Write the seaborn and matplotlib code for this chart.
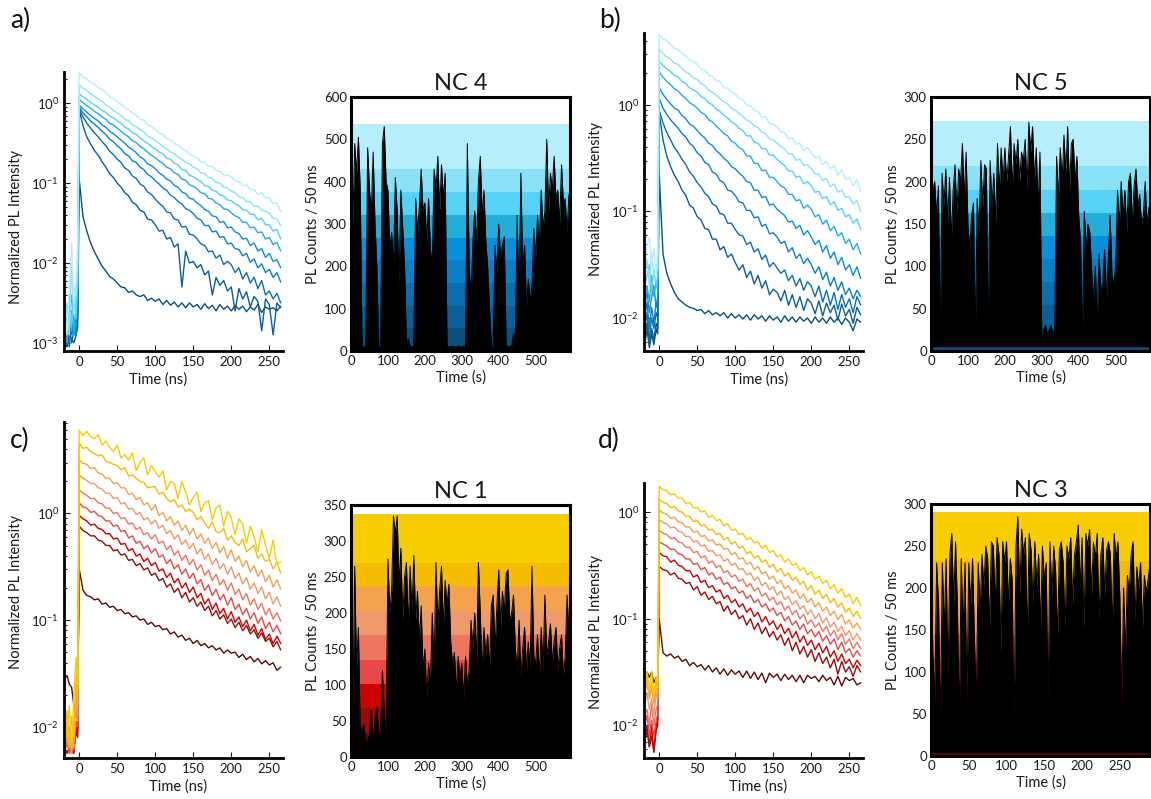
import numpy as np
import pandas as pd
import matplotlib
matplotlib.use("Agg")
import matplotlib.pyplot as plt
import seaborn as sns
from matplotlib.ticker import LogLocator, NullFormatter, MultipleLocator

sns.set_theme(style="ticks")
plt.rcParams["font.family"] = ["Lato", "DejaVu Sans"]
plt.rcParams["mathtext.fontset"] = "custom"
plt.rcParams["mathtext.rm"] = "Lato"
plt.rcParams["mathtext.it"] = "Lato:italic"
plt.rcParams["text.color"] = "#1a1a1a"
plt.rcParams["axes.labelcolor"] = "#1a1a1a"
plt.rcParams["xtick.color"] = "#1a1a1a"
plt.rcParams["ytick.color"] = "#1a1a1a"

# ---------------- colours (brightest bin first) ----------------
blue_bins = ["#b5effc", "#8ae2f9", "#55d2f5", "#22aed9", "#0a8fdc",
             "#0a7fc6", "#0a6eae", "#0a5f98", "#0b4f7f"]
warm_bins = ["#f7cd00", "#f6bd00", "#f4a24c", "#ef9a6c", "#ee7560",
             "#e84848", "#cc0000", "#9a0a0a", "#5c0a0a"]

# ---------------- decay time axis (ns) ----------------
decay_t_pre_ns = [-19, -16, -13, -10, -7, -4, -2]
decay_t_ns = np.arange(0, 270, 5)

# ---------------- panel a: log10 normalized PL intensity, brightest bin first ----
a_pre = [
    [-2.60, -2.90, -2.30, -1.75, -2.50, -2.20, -1.80],
    [-2.80, -2.50, -2.90, -2.00, -2.60, -2.40, -2.00],
    [-3.00, -2.70, -2.40, -2.80, -2.30, -2.70, -2.20],
    [-2.90, -3.00, -2.60, -2.40, -2.90, -2.50, -2.30],
    [-3.05, -2.80, -2.90, -2.60, -2.70, -2.90, -2.40],
    [-2.95, -3.00, -2.70, -2.90, -2.80, -2.70, -2.50],
    [-3.00, -2.90, -3.05, -2.70, -2.90, -2.80, -2.60],
    [-3.05, -2.95, -2.80, -3.00, -2.85, -2.90, -2.70],
    [-3.00, -3.05, -2.90, -2.95, -3.00, -2.90, -2.80],
]
a_decay = [
    [0.38, 0.33, 0.31, 0.26, 0.24, 0.20, 0.17, 0.14, 0.08, 0.06,
     0.02, -0.01, -0.06, -0.08, -0.12, -0.15, -0.20, -0.21, -0.27, -0.29,
     -0.33, -0.37, -0.39, -0.44, -0.46, -0.50, -0.52, -0.57, -0.59, -0.64,
     -0.66, -0.68, -0.73, -0.74, -0.79, -0.79, -0.84, -0.85, -0.90, -0.90,
     -0.92, -0.97, -0.98, -1.03, -1.02, -1.08, -1.08, -1.14, -1.12, -1.19,
     -1.18, -1.26, -1.24, -1.36],
    [0.23, 0.19, 0.16, 0.12, 0.09, 0.05, 0.03, -0.02, -0.05, -0.09,
     -0.12, -0.15, -0.20, -0.22, -0.27, -0.29, -0.33, -0.36, -0.41, -0.43,
     -0.47, -0.50, -0.54, -0.57, -0.61, -0.63, -0.67, -0.70, -0.74, -0.76,
     -0.80, -0.82, -0.87, -0.88, -0.93, -0.94, -0.99, -1.00, -1.05, -1.06,
     -1.10, -1.12, -1.17, -1.18, -1.23, -1.23, -1.29, -1.29, -1.34, -1.35,
     -1.38, -1.44, -1.45, -1.53],
    [0.12, 0.08, 0.05, 0.01, -0.02, -0.05, -0.09, -0.11, -0.16, -0.18,
     -0.22, -0.25, -0.30, -0.32, -0.37, -0.39, -0.43, -0.47, -0.50, -0.54,
     -0.57, -0.61, -0.63, -0.69, -0.70, -0.75, -0.77, -0.83, -0.84, -0.90,
     -0.92, -0.95, -0.98, -1.03, -1.04, -1.09, -1.10, -1.15, -1.16, -1.21,
     -1.22, -1.26, -1.28, -1.33, -1.34, -1.39, -1.39, -1.46, -1.44, -1.52,
     -1.52, -1.60, -1.58, -1.70],
    [0.05, 0.01, -0.03, -0.06, -0.10, -0.13, -0.17, -0.20, -0.25, -0.27,
     -0.31, -0.35, -0.39, -0.42, -0.47, -0.49, -0.54, -0.57, -0.61, -0.65,
     -0.68, -0.72, -0.75, -0.80, -0.82, -0.87, -0.89, -0.95, -0.96, -1.02,
     -1.04, -1.07, -1.12, -1.13, -1.19, -1.20, -1.25, -1.27, -1.32, -1.33,
     -1.37, -1.41, -1.43, -1.49, -1.49, -1.56, -1.55, -1.62, -1.61, -1.70,
     -1.68, -1.77, -1.74, -1.85],
    [-0.02, -0.07, -0.11, -0.15, -0.19, -0.22, -0.27, -0.30, -0.35, -0.38,
     -0.42, -0.46, -0.50, -0.55, -0.58, -0.62, -0.67, -0.70, -0.76, -0.78,
     -0.82, -0.87, -0.90, -0.95, -0.97, -1.03, -1.05, -1.11, -1.13, -1.19,
     -1.20, -1.25, -1.28, -1.33, -1.35, -1.41, -1.42, -1.49, -1.48, -1.56,
     -1.55, -1.61, -1.63, -1.70, -1.69, -1.78, -1.75, -1.85, -1.82, -1.93,
     -1.88, -1.98, -1.96, -2.06],
    [-0.05, -0.12, -0.17, -0.22, -0.26, -0.30, -0.35, -0.39, -0.45, -0.48,
     -0.53, -0.57, -0.63, -0.66, -0.72, -0.74, -0.80, -0.83, -0.89, -0.92,
     -0.97, -1.01, -1.06, -1.09, -1.15, -1.18, -1.23, -1.26, -1.32, -1.34,
     -1.38, -1.44, -1.46, -1.53, -1.53, -1.61, -1.60, -1.68, -1.67, -1.76,
     -1.75, -1.82, -1.83, -1.91, -1.88, -1.99, -1.95, -2.06, -2.01, -2.12,
     -2.08, -2.18, -2.12, -2.24],
    [-0.07, -0.17, -0.25, -0.31, -0.37, -0.42, -0.48, -0.53, -0.60, -0.64,
     -0.70, -0.74, -0.81, -0.84, -0.91, -0.94, -1.01, -1.04, -1.11, -1.14,
     -1.20, -1.25, -1.29, -1.36, -1.37, -1.45, -1.46, -1.55, -1.54, -1.64,
     -1.65, -1.70, -1.76, -1.78, -1.86, -1.85, -1.94, -1.90, -2.02, -1.98,
     -2.02, -2.12, -2.06, -2.20, -2.12, -2.25, -2.18, -2.32, -2.22, -2.40,
     -2.35, -2.45, -2.38, -2.50],
    [-0.08, -0.28, -0.42, -0.51, -0.59, -0.65, -0.73, -0.80, -0.88, -0.93,
     -1.00, -1.05, -1.12, -1.16, -1.24, -1.27, -1.34, -1.36, -1.45, -1.46,
     -1.52, -1.60, -1.59, -1.70, -1.68, -1.80, -1.76, -2.30, -1.85, -2.00,
     -1.98, -2.06, -2.02, -2.15, -2.10, -2.40, -2.18, -2.28, -2.22, -2.35,
     -2.30, -2.60, -2.32, -2.45, -2.36, -2.55, -2.42, -2.48, -2.85, -2.45,
     -2.52, -2.90, -2.50, -2.56],
    [-0.95, -1.42, -1.60, -1.75, -1.86, -1.95, -2.04, -2.10, -2.17, -2.20,
     -2.25, -2.30, -2.31, -2.37, -2.35, -2.40, -2.42, -2.40, -2.47, -2.44,
     -2.48, -2.45, -2.52, -2.47, -2.53, -2.49, -2.55, -2.50, -2.56, -2.50,
     -2.55, -2.52, -2.58, -2.51, -2.57, -2.53, -2.60, -2.52, -2.58, -2.54,
     -2.60, -2.53, -2.58, -2.54, -2.61, -2.55, -2.59, -2.52, -2.62, -2.55,
     -2.58, -2.56, -2.60, -2.54],
]

# ---------------- panel b ----------------
b_pre = [
    [-1.50, -1.30, -1.25, -1.50, -1.35, -1.60, -1.40],
    [-1.60, -1.45, -1.70, -1.40, -1.60, -1.50, -1.55],
    [-1.70, -1.60, -1.50, -1.75, -1.55, -1.70, -1.60],
    [-1.80, -1.70, -1.85, -1.60, -1.80, -1.65, -1.75],
    [-1.90, -1.75, -1.95, -1.80, -1.70, -1.90, -1.80],
    [-2.00, -1.85, -2.10, -1.90, -2.05, -1.85, -1.90],
    [-2.10, -1.95, -2.20, -2.00, -2.10, -1.95, -2.00],
    [-2.20, -2.05, -2.25, -2.10, -2.20, -2.05, -2.10],
    [-2.25, -2.10, -2.28, -2.15, -2.25, -2.10, -2.15],
]
b_decay = [
    [0.66, 0.62, 0.60, 0.57, 0.53, 0.52, 0.48, 0.46, 0.42, 0.41,
     0.38, 0.34, 0.33, 0.28, 0.27, 0.23, 0.22, 0.16, 0.16, 0.12,
     0.10, 0.06, 0.05, 0.00, -0.01, -0.05, -0.06, -0.12, -0.11, -0.18,
     -0.18, -0.21, -0.25, -0.26, -0.32, -0.31, -0.37, -0.36, -0.43, -0.40,
     -0.45, -0.50, -0.48, -0.56, -0.53, -0.60, -0.57, -0.66, -0.61, -0.70,
     -0.68, -0.76, -0.70, -0.82],
    [0.52, 0.48, 0.45, 0.43, 0.39, 0.38, 0.34, 0.31, 0.29, 0.25,
     0.24, 0.20, 0.18, 0.14, 0.12, 0.09, 0.06, 0.03, 0.01, -0.03,
     -0.05, -0.08, -0.11, -0.14, -0.16, -0.20, -0.21, -0.26, -0.27, -0.32,
     -0.33, -0.36, -0.39, -0.41, -0.46, -0.46, -0.52, -0.51, -0.57, -0.56,
     -0.60, -0.65, -0.65, -0.71, -0.69, -0.77, -0.74, -0.82, -0.80, -0.87,
     -0.86, -0.93, -0.90, -1.00],
    [0.41, 0.37, 0.34, 0.31, 0.28, 0.26, 0.22, 0.20, 0.16, 0.14,
     0.12, 0.08, 0.06, 0.02, 0.00, -0.04, -0.06, -0.10, -0.12, -0.16,
     -0.18, -0.22, -0.24, -0.29, -0.29, -0.35, -0.36, -0.41, -0.41, -0.47,
     -0.47, -0.51, -0.54, -0.57, -0.62, -0.62, -0.68, -0.67, -0.74, -0.72,
     -0.76, -0.82, -0.81, -0.88, -0.86, -0.94, -0.91, -0.99, -0.97, -1.05,
     -1.03, -1.11, -1.07, -1.17],
    [0.31, 0.26, 0.22, 0.19, 0.15, 0.13, 0.09, 0.06, 0.02, 0.00,
     -0.03, -0.07, -0.09, -0.14, -0.16, -0.20, -0.23, -0.27, -0.29, -0.34,
     -0.36, -0.40, -0.42, -0.48, -0.48, -0.55, -0.55, -0.62, -0.61, -0.68,
     -0.68, -0.72, -0.76, -0.78, -0.84, -0.84, -0.90, -0.89, -0.97, -0.94,
     -0.98, -1.05, -1.03, -1.12, -1.08, -1.18, -1.14, -1.23, -1.20, -1.30,
     -1.26, -1.36, -1.30, -1.40],
    [0.16, 0.10, 0.05, 0.01, -0.03, -0.05, -0.10, -0.13, -0.18, -0.20,
     -0.24, -0.28, -0.31, -0.36, -0.38, -0.43, -0.46, -0.50, -0.53, -0.58,
     -0.60, -0.64, -0.67, -0.72, -0.73, -0.80, -0.80, -0.87, -0.86, -0.94,
     -0.93, -0.98, -1.01, -1.04, -1.10, -1.09, -1.16, -1.13, -1.22, -1.18,
     -1.24, -1.31, -1.27, -1.38, -1.32, -1.44, -1.38, -1.50, -1.43, -1.55,
     -1.50, -1.60, -1.52, -1.63],
    [0.06, -0.03, -0.09, -0.14, -0.18, -0.22, -0.27, -0.30, -0.36, -0.39,
     -0.45, -0.48, -0.54, -0.56, -0.63, -0.65, -0.71, -0.73, -0.80, -0.81,
     -0.85, -0.91, -0.92, -0.99, -0.99, -1.06, -1.05, -1.14, -1.12, -1.21,
     -1.20, -1.24, -1.30, -1.28, -1.38, -1.34, -1.44, -1.40, -1.49, -1.44,
     -1.50, -1.58, -1.52, -1.64, -1.57, -1.70, -1.62, -1.74, -1.66, -1.78,
     -1.72, -1.82, -1.74, -1.80],
    [-0.05, -0.17, -0.26, -0.33, -0.40, -0.45, -0.51, -0.56, -0.63, -0.67,
     -0.73, -0.77, -0.83, -0.86, -0.93, -0.95, -1.02, -1.03, -1.11, -1.11,
     -1.17, -1.22, -1.23, -1.31, -1.29, -1.38, -1.35, -1.45, -1.41, -1.52,
     -1.48, -1.53, -1.58, -1.55, -1.65, -1.60, -1.70, -1.63, -1.74, -1.66,
     -1.70, -1.80, -1.70, -1.85, -1.74, -1.88, -1.76, -1.92, -1.78, -1.90,
     -1.82, -1.95, -1.80, -1.88],
    [-0.08, -0.33, -0.48, -0.58, -0.66, -0.72, -0.80, -0.85, -0.94, -0.97,
     -1.05, -1.08, -1.16, -1.17, -1.26, -1.26, -1.36, -1.33, -1.43, -1.40,
     -1.48, -1.55, -1.50, -1.62, -1.56, -1.68, -1.60, -1.72, -1.65, -1.78,
     -1.73, -1.76, -1.84, -1.74, -1.88, -1.78, -1.90, -1.80, -1.93, -1.82,
     -1.86, -1.96, -1.84, -1.98, -1.86, -1.95, -1.88, -2.02, -1.87, -1.98,
     -1.92, -2.05, -1.90, -1.97],
    [-0.64, -1.40, -1.58, -1.68, -1.76, -1.82, -1.85, -1.88, -1.90, -1.91,
     -1.93, -1.92, -1.96, -1.93, -1.97, -1.95, -1.98, -1.95, -2.00, -1.96,
     -2.00, -1.97, -2.01, -1.97, -2.02, -1.97, -2.01, -1.98, -2.03, -1.98,
     -2.02, -1.99, -2.04, -1.98, -2.03, -1.99, -2.04, -1.99, -2.03, -2.00,
     -2.05, -1.99, -2.04, -2.00, -2.05, -1.99, -2.04, -2.00, -2.06, -2.00,
     -2.04, -2.12, -2.01, -2.04],
]

# ---------------- panel c ----------------
c_pre = [
    [-1.90, -2.10, -1.80, -2.20, -1.70, -1.35, -1.60],
    [-2.00, -1.85, -2.20, -1.90, -2.10, -1.50, -1.70],
    [-1.95, -2.15, -2.00, -2.25, -1.95, -1.60, -1.80],
    [-2.10, -1.95, -2.20, -2.05, -2.20, -1.75, -1.90],
    [-2.05, -2.20, -2.10, -2.25, -2.10, -1.85, -1.95],
    [-2.15, -2.10, -2.25, -2.15, -2.22, -1.95, -2.00],
    [-2.20, -2.15, -2.22, -2.20, -2.25, -2.00, -2.05],
    [-2.20, -2.25, -2.20, -2.25, -2.20, -2.05, -2.10],
    [-1.55, -1.52, -1.60, -1.63, -1.80, -1.90, -1.70],
]
c_decay = [
    [0.78, 0.73, 0.77, 0.72, 0.70, 0.74, 0.64, 0.68, 0.62, 0.58,
     0.64, 0.52, 0.55, 0.50, 0.57, 0.40, 0.48, 0.52, 0.36, 0.45,
     0.39, 0.34, 0.40, 0.22, 0.30, 0.28, 0.14, 0.30, 0.20, 0.08,
     0.15, 0.20, 0.02, 0.10, 0.12, -0.06, 0.05, 0.08, -0.12, 0.02,
     -0.04, -0.20, -0.05, -0.10, -0.28, -0.12, -0.22, -0.36, -0.15, -0.30,
     -0.42, -0.25, -0.48, -0.45],
    [0.66, 0.61, 0.62, 0.58, 0.56, 0.54, 0.55, 0.49, 0.48, 0.46,
     0.45, 0.41, 0.43, 0.35, 0.36, 0.33, 0.30, 0.29, 0.24, 0.25,
     0.25, 0.18, 0.20, 0.14, 0.11, 0.13, 0.06, 0.08, 0.02, 0.04,
     0.01, -0.06, -0.03, -0.09, -0.14, -0.08, -0.17, -0.18, -0.14, -0.25,
     -0.21, -0.27, -0.30, -0.24, -0.36, -0.33, -0.30, -0.42, -0.38, -0.45,
     -0.43, -0.52, -0.46, -0.56],
    [0.50, 0.47, 0.46, 0.42, 0.43, 0.38, 0.37, 0.33, 0.33, 0.28,
     0.29, 0.24, 0.24, 0.18, 0.19, 0.13, 0.15, 0.08, 0.10, 0.03,
     0.08, -0.02, 0.01, -0.07, -0.03, -0.11, -0.07, -0.16, -0.11, -0.20,
     -0.14, -0.24, -0.19, -0.28, -0.23, -0.33, -0.27, -0.37, -0.31, -0.42,
     -0.34, -0.45, -0.40, -0.50, -0.44, -0.55, -0.49, -0.59, -0.53, -0.64,
     -0.58, -0.69, -0.62, -0.71],
    [0.36, 0.33, 0.31, 0.28, 0.28, 0.24, 0.23, 0.19, 0.19, 0.14,
     0.15, 0.09, 0.10, 0.04, 0.05, -0.01, 0.01, -0.06, -0.04, -0.10,
     -0.06, -0.14, -0.11, -0.19, -0.16, -0.24, -0.20, -0.29, -0.25, -0.33,
     -0.28, -0.38, -0.33, -0.43, -0.38, -0.48, -0.42, -0.52, -0.47, -0.57,
     -0.50, -0.61, -0.56, -0.66, -0.60, -0.71, -0.65, -0.75, -0.69, -0.80,
     -0.74, -0.85, -0.78, -0.87],
    [0.22, 0.19, 0.17, 0.14, 0.14, 0.10, 0.09, 0.05, 0.05, 0.00,
     0.01, -0.05, -0.04, -0.10, -0.09, -0.15, -0.13, -0.20, -0.18, -0.24,
     -0.20, -0.28, -0.26, -0.34, -0.30, -0.39, -0.35, -0.44, -0.39, -0.48,
     -0.43, -0.53, -0.48, -0.58, -0.53, -0.63, -0.57, -0.67, -0.62, -0.72,
     -0.65, -0.76, -0.71, -0.81, -0.75, -0.86, -0.80, -0.90, -0.84, -0.95,
     -0.89, -0.99, -0.93, -1.01],
    [0.10, 0.06, 0.05, 0.01, 0.02, -0.02, -0.03, -0.07, -0.07, -0.12,
     -0.11, -0.17, -0.16, -0.23, -0.21, -0.28, -0.26, -0.33, -0.30, -0.37,
     -0.33, -0.41, -0.39, -0.47, -0.43, -0.52, -0.48, -0.57, -0.52, -0.61,
     -0.56, -0.66, -0.62, -0.72, -0.67, -0.77, -0.71, -0.81, -0.76, -0.86,
     -0.79, -0.90, -0.85, -0.95, -0.89, -0.99, -0.93, -1.03, -0.97, -1.08,
     -1.02, -1.11, -1.05, -1.13],
    [-0.02, -0.05, -0.07, -0.11, -0.10, -0.14, -0.15, -0.19, -0.19, -0.24,
     -0.23, -0.29, -0.28, -0.35, -0.33, -0.40, -0.38, -0.45, -0.42, -0.49,
     -0.46, -0.54, -0.52, -0.60, -0.56, -0.65, -0.61, -0.70, -0.65, -0.74,
     -0.69, -0.79, -0.75, -0.85, -0.80, -0.90, -0.84, -0.94, -0.89, -0.99,
     -0.92, -1.02, -0.97, -1.06, -1.00, -1.10, -1.04, -1.14, -1.08, -1.18,
     -1.13, -1.22, -1.15, -1.22],
    [-0.12, -0.16, -0.18, -0.21, -0.21, -0.25, -0.26, -0.30, -0.30, -0.35,
     -0.34, -0.39, -0.38, -0.44, -0.43, -0.49, -0.47, -0.53, -0.51, -0.58,
     -0.56, -0.63, -0.61, -0.69, -0.66, -0.74, -0.70, -0.79, -0.74, -0.83,
     -0.79, -0.87, -0.83, -0.91, -0.87, -0.96, -0.91, -0.99, -0.95, -1.03,
     -0.99, -1.07, -1.02, -1.10, -1.05, -1.13, -1.09, -1.17, -1.12, -1.20,
     -1.17, -1.25, -1.20, -1.28],
    [-0.52, -0.72, -0.77, -0.78, -0.81, -0.80, -0.85, -0.84, -0.88, -0.87,
     -0.91, -0.90, -0.94, -0.93, -0.97, -0.96, -1.00, -0.99, -1.04, -1.02,
     -1.06, -1.05, -1.09, -1.08, -1.13, -1.11, -1.16, -1.14, -1.19, -1.17,
     -1.22, -1.19, -1.24, -1.22, -1.26, -1.24, -1.28, -1.26, -1.31, -1.28,
     -1.31, -1.30, -1.35, -1.32, -1.37, -1.34, -1.39, -1.36, -1.41, -1.38,
     -1.42, -1.40, -1.47, -1.44],
]

# ---------------- panel d ----------------
d_pre = [
    [-1.60, -1.50, -1.65, -1.50, -1.70, -1.55, -1.60],
    [-1.65, -1.55, -1.70, -1.60, -1.75, -1.60, -1.65],
    [-1.70, -1.60, -1.75, -1.65, -1.80, -1.65, -1.70],
    [-1.80, -1.70, -1.85, -1.75, -1.90, -1.70, -1.75],
    [-1.90, -1.85, -2.00, -1.80, -2.00, -1.85, -1.80],
    [-2.00, -1.90, -2.10, -1.95, -2.10, -1.95, -1.90],
    [-2.10, -2.00, -2.20, -2.00, -2.25, -2.00, -1.95],
    [-2.15, -2.05, -2.20, -2.10, -2.25, -2.05, -2.00],
    [-1.60, -1.50, -1.55, -1.50, -1.60, -1.55, -1.60],
]
d_decay = [
    [0.24, 0.21, 0.20, 0.16, 0.17, 0.13, 0.13, 0.08, 0.09, 0.04,
     0.04, 0.00, 0.01, -0.05, -0.03, -0.08, -0.07, -0.13, -0.11, -0.17,
     -0.16, -0.21, -0.20, -0.26, -0.24, -0.29, -0.28, -0.34, -0.31, -0.38,
     -0.36, -0.42, -0.40, -0.47, -0.44, -0.50, -0.48, -0.55, -0.52, -0.59,
     -0.56, -0.63, -0.60, -0.67, -0.64, -0.72, -0.68, -0.76, -0.72, -0.80,
     -0.77, -0.86, -0.80, -0.88],
    [0.12, 0.09, 0.08, 0.04, 0.05, 0.01, 0.00, -0.04, -0.04, -0.09,
     -0.08, -0.13, -0.12, -0.17, -0.16, -0.21, -0.20, -0.26, -0.24, -0.30,
     -0.28, -0.34, -0.32, -0.39, -0.37, -0.43, -0.41, -0.47, -0.45, -0.52,
     -0.49, -0.56, -0.53, -0.60, -0.57, -0.64, -0.61, -0.68, -0.65, -0.73,
     -0.69, -0.77, -0.73, -0.81, -0.77, -0.85, -0.81, -0.89, -0.85, -0.94,
     -0.90, -0.98, -0.93, -1.00],
    [0.02, -0.01, -0.02, -0.06, -0.05, -0.09, -0.10, -0.14, -0.14, -0.19,
     -0.18, -0.23, -0.22, -0.27, -0.26, -0.31, -0.30, -0.35, -0.34, -0.40,
     -0.38, -0.44, -0.43, -0.49, -0.47, -0.54, -0.51, -0.58, -0.56, -0.63,
     -0.60, -0.67, -0.64, -0.72, -0.69, -0.76, -0.73, -0.81, -0.77, -0.85,
     -0.81, -0.89, -0.85, -0.93, -0.89, -0.97, -0.93, -1.01, -0.96, -1.05,
     -1.01, -1.09, -1.04, -1.10],
    [-0.07, -0.10, -0.11, -0.15, -0.14, -0.18, -0.19, -0.23, -0.23, -0.28,
     -0.27, -0.32, -0.31, -0.37, -0.36, -0.41, -0.40, -0.46, -0.44, -0.50,
     -0.48, -0.54, -0.53, -0.59, -0.57, -0.64, -0.61, -0.69, -0.66, -0.73,
     -0.70, -0.78, -0.74, -0.82, -0.79, -0.87, -0.83, -0.91, -0.88, -0.96,
     -0.92, -1.00, -0.95, -1.04, -0.99, -1.08, -1.03, -1.12, -1.07, -1.16,
     -1.11, -1.20, -1.14, -1.20],
    [-0.17, -0.20, -0.21, -0.25, -0.24, -0.28, -0.29, -0.33, -0.33, -0.38,
     -0.37, -0.43, -0.41, -0.48, -0.46, -0.52, -0.50, -0.57, -0.55, -0.61,
     -0.59, -0.65, -0.63, -0.70, -0.67, -0.74, -0.71, -0.79, -0.76, -0.83,
     -0.80, -0.87, -0.84, -0.92, -0.88, -0.96, -0.92, -1.00, -0.96, -1.05,
     -1.01, -1.08, -1.04, -1.12, -1.07, -1.16, -1.11, -1.20, -1.14, -1.24,
     -1.19, -1.28, -1.22, -1.28],
    [-0.28, -0.30, -0.32, -0.35, -0.35, -0.39, -0.40, -0.44, -0.44, -0.49,
     -0.48, -0.54, -0.52, -0.59, -0.57, -0.63, -0.61, -0.68, -0.66, -0.72,
     -0.70, -0.76, -0.74, -0.81, -0.78, -0.85, -0.82, -0.89, -0.86, -0.93,
     -0.90, -0.97, -0.94, -1.02, -0.98, -1.06, -1.02, -1.10, -1.05, -1.14,
     -1.10, -1.17, -1.12, -1.21, -1.16, -1.24, -1.19, -1.29, -1.22, -1.32,
     -1.28, -1.36, -1.30, -1.35],
    [-0.38, -0.41, -0.42, -0.47, -0.45, -0.50, -0.51, -0.55, -0.55, -0.61,
     -0.59, -0.66, -0.64, -0.71, -0.69, -0.75, -0.73, -0.81, -0.78, -0.85,
     -0.82, -0.89, -0.86, -0.94, -0.90, -0.98, -0.94, -1.03, -0.98, -1.06,
     -1.02, -1.10, -1.05, -1.14, -1.09, -1.18, -1.12, -1.22, -1.16, -1.25,
     -1.20, -1.29, -1.23, -1.32, -1.26, -1.36, -1.30, -1.40, -1.33, -1.42,
     -1.38, -1.46, -1.39, -1.44],
    [-0.51, -0.54, -0.55, -0.59, -0.57, -0.62, -0.63, -0.67, -0.66, -0.73,
     -0.70, -0.78, -0.75, -0.82, -0.79, -0.86, -0.84, -0.93, -0.88, -0.96,
     -0.92, -1.00, -0.97, -1.06, -1.00, -1.10, -1.04, -1.14, -1.08, -1.17,
     -1.12, -1.20, -1.15, -1.25, -1.18, -1.30, -1.22, -1.33, -1.26, -1.36,
     -1.29, -1.40, -1.32, -1.42, -1.36, -1.46, -1.38, -1.52, -1.40, -1.50,
     -1.45, -1.54, -1.44, -1.50],
    [-1.00, -1.32, -1.35, -1.33, -1.37, -1.35, -1.40, -1.38, -1.44, -1.41,
     -1.45, -1.43, -1.48, -1.44, -1.50, -1.46, -1.52, -1.47, -1.53, -1.48,
     -1.52, -1.49, -1.55, -1.49, -1.56, -1.50, -1.57, -1.51, -1.60, -1.51,
     -1.55, -1.52, -1.58, -1.52, -1.57, -1.53, -1.59, -1.53, -1.60, -1.53,
     -1.56, -1.54, -1.59, -1.53, -1.58, -1.55, -1.62, -1.54, -1.63, -1.55,
     -1.58, -1.56, -1.62, -1.60],
]

# ---------------- blinking traces: PL counts / 50 ms ----------------
nc4_t_s = np.arange(0, 591, 5)
nc4_counts = [360, 300, 490, 420, 505, 380, 10, 10, 12, 480,
              380, 330, 470, 300, 200, 10, 10, 490, 530, 400,
              380, 240, 280, 200, 410, 330, 150, 380, 290, 200,
              15, 30, 12, 10, 12, 360, 280, 340, 430, 330,
              350, 260, 360, 240, 200, 430, 380, 460, 330, 440,
              360, 420, 12, 10, 10, 12, 10, 10, 12, 10,
              10, 12, 10, 490, 200, 120, 260, 330, 250, 400,
              460, 320, 380, 260, 200, 100, 12, 10, 250, 180,
              300, 220, 250, 270, 12, 10, 12, 10, 40, 40,
              320, 100, 420, 200, 250, 100, 170, 120, 150, 290,
              220, 320, 250, 380, 290, 330, 500, 330, 420, 380,
              460, 360, 380, 300, 440, 350, 360, 280, 370]
nc4_floor = 0
nc4_bin_edges = [0, 54, 107, 161, 215, 268, 322, 376, 430, 537]

nc5_t_s = np.arange(0, 591, 5)
nc5_counts = [225, 190, 200, 160, 195, 10, 210, 170, 215, 150,
              205, 130, 190, 220, 160, 215, 200, 245, 180, 235,
              150, 120, 160, 175, 10, 180, 140, 225, 170, 220,
              215, 10, 225, 170, 210, 150, 245, 190, 240, 200,
              240, 200, 230, 265, 190, 245, 220, 250, 200, 235,
              225, 250, 190, 270, 235, 265, 200, 240, 170, 235,
              10, 25, 30, 20, 25, 30, 20, 25, 230, 180,
              240, 200, 255, 210, 265, 190, 245, 250, 200, 230,
              160, 130, 10, 165, 120, 150, 140, 95, 60, 100,
              30, 115, 70, 80, 120, 60, 110, 160, 90, 80,
              100, 190, 150, 200, 160, 190, 140, 200, 210, 150,
              195, 215, 170, 185, 150, 160, 200, 150, 170]
nc5_floor = 5
nc5_bin_edges = [0, 27, 54, 82, 109, 136, 163, 190, 218, 272]

nc1_t_s = np.arange(0, 591, 5)
nc1_counts = [105, 60, 265, 120, 180, 35, 40, 45, 20, 25,
              30, 65, 20, 50, 70, 25, 40, 120, 60, 30,
              275, 200, 230, 335, 310, 335, 240, 290, 190, 250,
              270, 180, 265, 200, 280, 190, 230, 160, 210, 120,
              150, 80, 130, 100, 200, 120, 270, 180, 230, 265,
              180, 245, 210, 240, 160, 130, 145, 90, 140, 110,
              130, 80, 140, 100, 120, 190, 150, 200, 130, 270,
              200, 120, 180, 140, 170, 120, 210, 225, 150, 210,
              260, 180, 230, 200, 255, 260, 190, 200, 225, 150,
              120, 190, 110, 150, 180, 120, 160, 120, 265, 140,
              130, 170, 110, 180, 120, 225, 140, 160, 185, 130,
              160, 180, 120, 150, 170, 110, 140, 225, 170]
nc1_floor = 0
nc1_bin_edges = [0, 34, 68, 101, 135, 169, 203, 237, 270, 338]

nc3_t_s = np.arange(0, 290.1, 2.5)
nc3_counts = [230, 120, 65, 230, 180, 30, 230, 150, 235, 90,
              240, 265, 180, 255, 175, 40, 235, 150, 230, 60,
              230, 180, 235, 140, 60, 230, 170, 240, 200, 250,
              235, 150, 255, 250, 180, 260, 240, 120, 255, 230,
              255, 180, 235, 210, 30, 250, 285, 190, 270, 240,
              260, 140, 265, 245, 180, 255, 200, 240, 150, 250,
              210, 230, 60, 255, 190, 250, 220, 140, 245, 255,
              230, 150, 250, 235, 260, 180, 240, 255, 275, 200,
              260, 150, 265, 250, 270, 190, 255, 235, 265, 160,
              240, 260, 190, 245, 255, 240, 150, 265, 235, 255,
              190, 60, 200, 120, 215, 195, 240, 255, 160, 225,
              200, 230, 150, 215, 195, 210, 230]
nc3_floor = 4
nc3_bin_edges = [0, 29, 58, 87, 116, 145, 174, 203, 232, 290]

# ---------------- figure ----------------
W, H = 1151, 799
fig = plt.figure(figsize=(W / 100, H / 100), dpi=100)


def px_axes(left, top, right, bottom):
    return fig.add_axes([left / W, 1 - bottom / H, (right - left) / W, (bottom - top) / H])


TICK_FS = 9.5
LAB_FS = 10.5


def draw_decay(ax, pre, main, colors, ylim, xlab_x, ylab_y):
    rows = []
    t_all = list(decay_t_pre_ns) + list(decay_t_ns)
    for k in range(len(main) - 1, -1, -1):  # darkest bin drawn first
        logs = list(pre[k]) + list(main[k])
        assert len(logs) == len(t_all)
        for t, lv in zip(t_all, logs):
            rows.append(("bin%d" % k, t, 10.0 ** lv))
    df = pd.DataFrame(rows, columns=["bin", "t", "I"])
    pal = {"bin%d" % k: colors[k] for k in range(len(colors))}
    sns.lineplot(data=df, x="t", y="I", hue="bin", palette=pal, estimator=None,
                 legend=False, ax=ax, linewidth=1.0)
    ax.set_yscale("log")
    ax.set_ylim(*ylim)
    ax.set_xlim(-20, 268)
    ax.xaxis.set_major_locator(MultipleLocator(50))
    ax.yaxis.set_major_locator(LogLocator(base=10))
    ax.yaxis.set_minor_locator(LogLocator(base=10, subs=np.arange(2, 10)))
    ax.yaxis.set_minor_formatter(NullFormatter())
    for s in ["top", "right"]:
        ax.spines[s].set_visible(False)
    for s in ["left", "bottom"]:
        ax.spines[s].set_linewidth(2.0)
        ax.spines[s].set_color("black")
    ax.tick_params(which="both", direction="in", left=True, bottom=True,
                   labelsize=TICK_FS, width=0.8)
    ax.tick_params(which="major", length=4)
    ax.tick_params(which="minor", length=2.2)
    ax.set_xlabel("Time (ns)", fontsize=LAB_FS)
    ax.set_ylabel("Normalized PL Intensity", fontsize=LAB_FS)
    ax.xaxis.set_label_coords(xlab_x, -0.075 * 279 / (ax.get_position().height * H))
    ax.yaxis.set_label_coords(-0.185, ylab_y)
    ax.set_facecolor("white")


def draw_blink(ax, t, counts, floor, edges, colors_dark_first, xmax, ymax, yticks, title):
    for i in range(len(edges) - 1):
        ax.axhspan(edges[i], edges[i + 1], color=colors_dark_first[i], lw=0, zorder=0)
    ax.fill_between(t, floor, counts, color="black", lw=0, zorder=2)
    sns.lineplot(x=t, y=counts, color="black", linewidth=0.7, ax=ax, zorder=3,
                 estimator=None)
    ax.set_xlim(0, xmax)
    ax.set_ylim(0, ymax)
    ax.set_yticks(yticks)
    for s in ax.spines.values():
        s.set_linewidth(2.2)
        s.set_color("black")
        s.set_zorder(5)
    ax.tick_params(length=0, labelsize=TICK_FS, pad=3)
    ax.set_xlabel("Time (s)", fontsize=LAB_FS, labelpad=2)
    ax.set_ylabel("PL Counts / 50 ms", fontsize=LAB_FS, labelpad=3)
    ax.set_title(title, fontsize=17, pad=5)
    ax.set_facecolor("white")


# panel a
ax_a1 = px_axes(64, 72, 283, 351)
draw_decay(ax_a1, a_pre, a_decay, blue_bins, (7.9e-4, 2.47), 0.43, 0.445)
ax_a2 = px_axes(351, 97, 570, 351)
draw_blink(ax_a2, nc4_t_s, nc4_counts, nc4_floor, nc4_bin_edges, blue_bins[::-1],
           593, 600, range(0, 601, 100), "NC 4")
ax_a2.set_xticks(range(0, 501, 100))

# panel b
ax_b1 = px_axes(644, 33, 863, 351)
draw_decay(ax_b1, b_pre, b_decay, blue_bins, (4.9e-3, 4.73), 0.525, 0.478)
ax_b2 = px_axes(931, 97, 1150, 351)
draw_blink(ax_b2, nc5_t_s, nc5_counts, nc5_floor, nc5_bin_edges, blue_bins[::-1],
           593, 300, range(0, 301, 50), "NC 5")
ax_b2.set_xticks(range(0, 501, 100))

# panel c
ax_c1 = px_axes(64, 422, 283, 758)
draw_decay(ax_c1, c_pre, c_decay, warm_bins, (5.1e-3, 7.2), 0.52, 0.494)
ax_c2 = px_axes(351, 505, 570, 757)
draw_blink(ax_c2, nc1_t_s, nc1_counts, nc1_floor, nc1_bin_edges, warm_bins[::-1],
           593, 350, range(0, 351, 50), "NC 1")
ax_c2.set_xticks(range(0, 501, 100))

# panel d
ax_d1 = px_axes(644, 483, 863, 758)
draw_decay(ax_d1, d_pre, d_decay, warm_bins, (4.95e-3, 1.87), 0.52, 0.458)
ax_d2 = px_axes(931, 504, 1150, 756)
draw_blink(ax_d2, nc3_t_s, nc3_counts, nc3_floor, nc3_bin_edges, warm_bins[::-1],
           290, 300, range(0, 301, 50), "NC 3")
ax_d2.set_xticks(range(0, 251, 50))

# panel letters
for txt, x, y in [("a)", 10, 8), ("b)", 599, 8), ("c)", 10, 428), ("d)", 598, 428)]:
    fig.text(x / W, 1 - y / H, txt, fontsize=19, va="top", ha="left", color="#111111")

fig.savefig("out.png", dpi=100)
